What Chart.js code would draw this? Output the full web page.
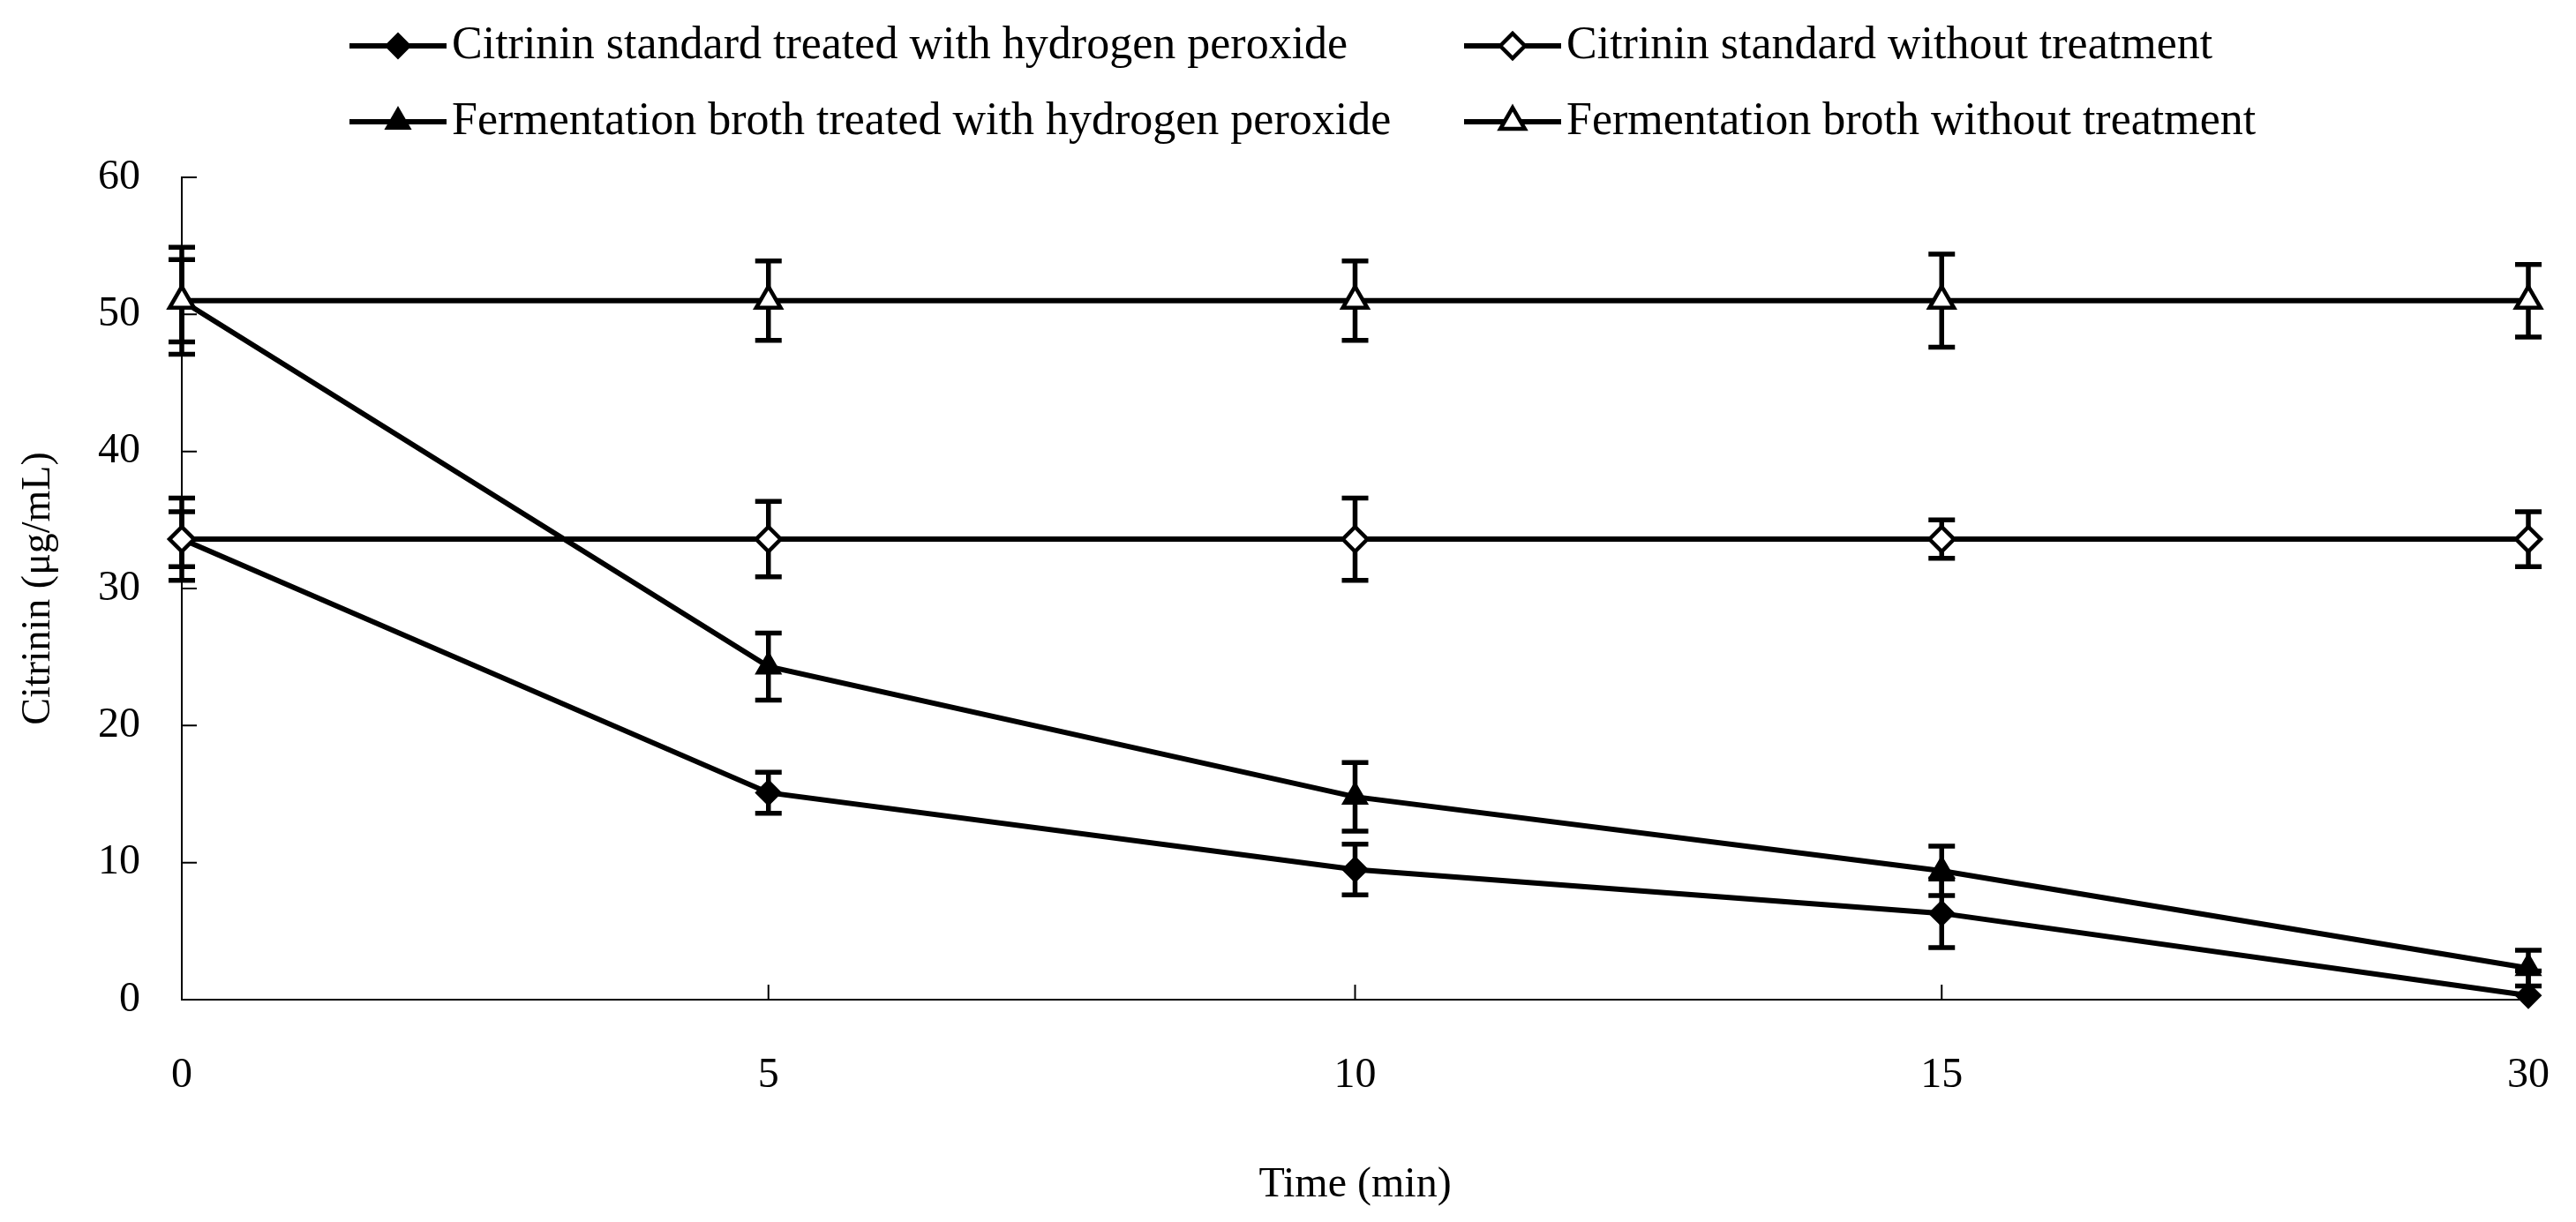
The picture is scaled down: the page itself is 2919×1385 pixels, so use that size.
<!DOCTYPE html>
<html>
<head>
<meta charset="utf-8">
<title>Citrinin</title>
<script src="https://cdn.jsdelivr.net/npm/chart.js@4.4.1/dist/chart.umd.min.js"></script>
<style>
    html, body { margin: 0; padding: 0; background: #fff; overflow: hidden; }
    canvas { display: block; }
</style>
</head>
<body>
<canvas id="graficoCitrinina" width="2919" height="1385"></canvas>
<script>
// Datos (µg/mL)
const tiempos = ['0', '5', '10', '15', '30'];

const estandarTratado = [33.6, 15.1, 9.5, 6.3, 0.3];
const estandarTratadoErr = [3.0, 1.5, 1.85, 2.5, 1.8];

const estandarSinTratar = [33.6, 33.6, 33.6, 33.6, 33.6];
const estandarSinTratarErr = [2.0, 2.75, 3.0, 1.4, 2.0];

const caldoTratado = [51.0, 24.3, 14.8, 9.4, 2.3];
const caldoTratadoErr = [3.9, 2.45, 2.5, 1.8, 1.3];

const caldoSinTratar = [51.0, 51.0, 51.0, 51.0, 51.0];
const caldoSinTratarErr = [3.0, 2.9, 2.9, 3.4, 2.65];

const ticksY = [0, 10, 20, 30, 40, 50, 60];

const etiquetas = [
    'Citrinin standard treated with hydrogen peroxide',
    'Citrinin standard without treatment',
    'Fermentation broth treated with hydrogen peroxide',
    'Fermentation broth without treatment'
];

Chart.defaults.font.family = '"Liberation Serif", "Times New Roman", serif';
Chart.defaults.color = '#000';

// Serie con línea negra y marcador
function crearSerie(nombre, datos, errores, estilo, relleno, orden) {
    const radio = estilo === 'triangle' ? 16 : 14;
    return {
        label: nombre,
        data: datos,
        errores: errores,
        borderColor: '#000',
        borderWidth: 6,
        tension: 0,
        fill: false,
        clip: false,
        order: orden,
        pointStyle: estilo,
        pointRadius: radio,
        pointHoverRadius: radio,
        pointBackgroundColor: relleno,
        pointBorderColor: '#000',
        pointBorderWidth: relleno === '#000' ? 2 : 4.5
    };
}

// Marcas de los ejes hacia dentro
const marcasInternas = {
    id: 'marcasInternas',
    beforeDatasetsDraw(chart) {
        const { ctx, scales: { x, y } } = chart;
        ctx.save();
        ctx.strokeStyle = '#000';
        ctx.lineWidth = 2;
        ctx.beginPath();
        y.ticks.forEach((t, i) => {
            const py = y.getPixelForTick(i);
            ctx.moveTo(y.right, py);
            ctx.lineTo(y.right + 17, py);
        });
        x.ticks.forEach((t, i) => {
            if (i === 0) return;
            const px = x.getPixelForTick(i);
            ctx.moveTo(px, x.top);
            ctx.lineTo(px, x.top - 17);
        });
        ctx.stroke();
        ctx.restore();
    }
};

// Barras de error (debajo de los marcadores)
const barrasError = {
    id: 'barrasError',
    beforeDatasetsDraw(chart) {
        const { ctx, chartArea, scales: { y } } = chart;
        ctx.save();
        ctx.beginPath();
        ctx.rect(0, 0, chart.width, chartArea.bottom);
        ctx.clip();
        ctx.strokeStyle = '#000';
        ctx.lineWidth = 5.5;
        chart.data.datasets.forEach((ds, i) => {
            const meta = chart.getDatasetMeta(i);
            meta.data.forEach((punto, j) => {
                const v = ds.data[j];
                const e = ds.errores[j];
                const yArriba = y.getPixelForValue(v + e);
                const yAbajo = y.getPixelForValue(v - e);
                ctx.beginPath();
                ctx.moveTo(punto.x, yArriba);
                ctx.lineTo(punto.x, yAbajo);
                ctx.moveTo(punto.x - 15, yArriba);
                ctx.lineTo(punto.x + 15, yArriba);
                ctx.moveTo(punto.x - 15, yAbajo);
                ctx.lineTo(punto.x + 15, yAbajo);
                ctx.stroke();
            });
        });
        ctx.restore();
    }
};

// Leyenda de dos columnas con línea y marcador
const leyenda = {
    id: 'leyenda',
    afterDraw(chart) {
        const ctx = chart.ctx;
        const columnas = [396, 1659];
        const filas = [52, 138];
        chart.data.datasets.forEach((ds, i) => {
            const x0 = columnas[i % 2];
            const y0 = filas[Math.floor(i / 2)];
            ctx.save();
            ctx.strokeStyle = '#000';
            ctx.lineWidth = ds.borderWidth;
            ctx.beginPath();
            ctx.moveTo(x0, y0);
            ctx.lineTo(x0 + 110, y0);
            ctx.stroke();
            ctx.fillStyle = ds.pointBackgroundColor;
            ctx.strokeStyle = ds.pointBorderColor;
            ctx.lineWidth = ds.pointBorderWidth;
            Chart.helpers.drawPoint(ctx, {
                pointStyle: ds.pointStyle,
                radius: ds.pointRadius,
                borderWidth: ds.pointBorderWidth,
                rotation: 0
            }, x0 + 55, y0);
            ctx.fillStyle = '#000';
            ctx.font = '52px "Liberation Serif", "Times New Roman", serif';
            ctx.textBaseline = 'middle';
            ctx.textAlign = 'left';
            ctx.fillText(ds.label, x0 + 116, y0);
            ctx.restore();
        });
    }
};

const ctx = document.getElementById('graficoCitrinina').getContext('2d');

new Chart(ctx, {
    type: 'line',
    data: {
        labels: tiempos,
        datasets: [
            crearSerie(etiquetas[0], estandarTratado, estandarTratadoErr, 'rectRot', '#000', 2),
            crearSerie(etiquetas[1], estandarSinTratar, estandarSinTratarErr, 'rectRot', '#fff', 1),
            crearSerie(etiquetas[2], caldoTratado, caldoTratadoErr, 'triangle', '#000', 2),
            crearSerie(etiquetas[3], caldoSinTratar, caldoSinTratarErr, 'triangle', '#fff', 1)
        ]
    },
    options: {
        responsive: false,
        devicePixelRatio: 1,
        animation: false,
        layout: { padding: { left: 0, right: 54, top: 201, bottom: 0 } },
        plugins: {
            legend: { display: false },
            tooltip: { enabled: false }
        },
        scales: {
            x: {
                type: 'category',
                offset: false,
                grid: { display: false },
                border: { display: true, color: '#000', width: 2 },
                ticks: { color: '#000', font: { size: 48 }, padding: 50, maxRotation: 0, autoSkip: false },
                title: {
                    display: true,
                    text: 'Time (min)',
                    color: '#000',
                    font: { size: 48 },
                    padding: { top: 0, bottom: 13 }
                },
                afterFit(scale) {
                    scale.height = 252;
                    scale.paddingLeft = 0;
                    scale.paddingRight = 0;
                }
            },
            y: {
                min: 0,
                max: 60,
                grid: { display: false },
                border: { display: true, color: '#000', width: 2 },
                afterBuildTicks(scale) { scale.ticks = ticksY.map(v => ({ value: v })); },
                ticks: { color: '#000', font: { size: 48 }, padding: 39 },
                title: {
                    display: true,
                    text: 'Citrinin (μg/mL)',
                    color: '#000',
                    font: { size: 46 },
                    padding: { top: 16, bottom: 0 }
                },
                afterFit(scale) { scale.width = 206; }
            }
        }
    },
    plugins: [marcasInternas, barrasError, leyenda]
});
</script>
</body>
</html>
